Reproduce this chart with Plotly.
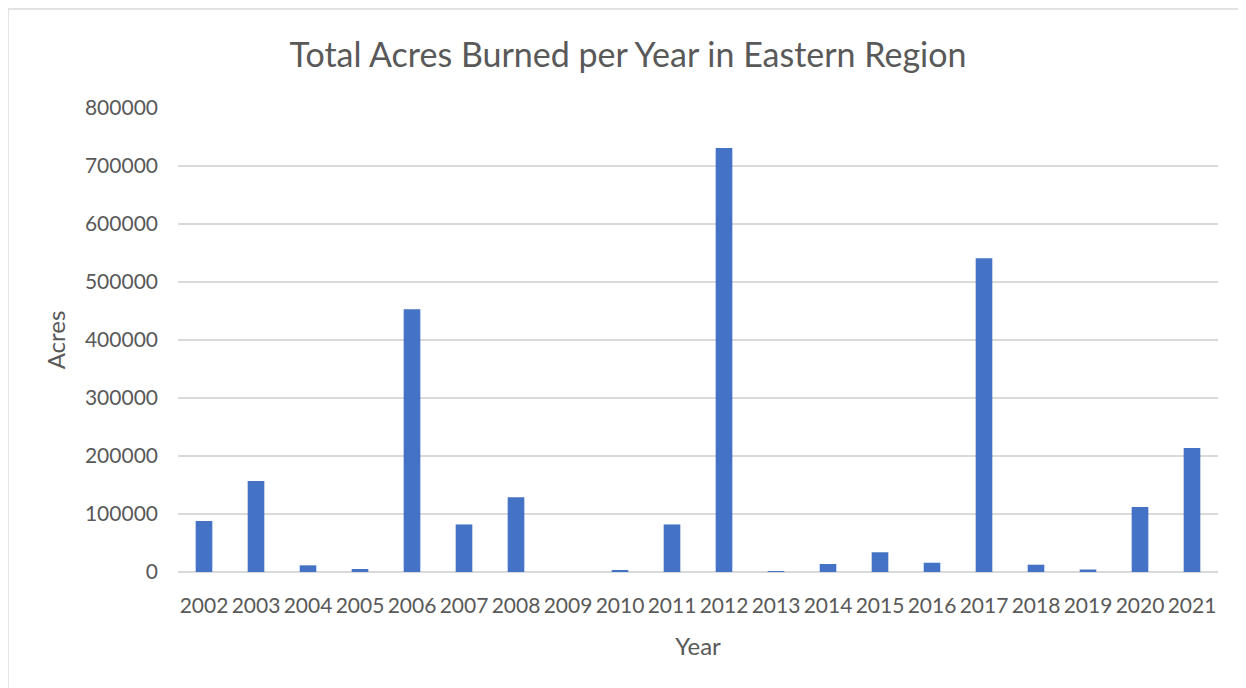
import plotly.graph_objects as go

# Acres burned per year
years = ["2002", "2003", "2004", "2005", "2006", "2007", "2008", "2009", "2010", "2011",
         "2012", "2013", "2014", "2015", "2016", "2017", "2018", "2019", "2020", "2021"]
acres = [88000, 157000, 11500, 5200, 453000, 82000, 129000, 0, 2000, 82000,
         731000, 1500, 13800, 34000, 16000, 541000, 12600, 4300, 112000, 214000]

y_ticks = [0, 100000, 200000, 300000, 400000, 500000, 600000, 700000, 800000]

text_grey = "#595959"
grid_grey = "#d9d9d9"
font_name = "Lato"

fig = go.Figure()

fig.add_trace(go.Bar(
    x=years,
    y=acres,
    marker_color="#4472C4",
    marker_line_width=0,
    showlegend=False,
))

fig.update_layout(
    width=1246,
    height=688,
    paper_bgcolor="white",
    plot_bgcolor="white",
    margin=dict(l=170, r=36, t=100, b=124),
    bargap=0.68,
    font=dict(family=font_name, color=text_grey, size=21),
    title=dict(
        text="Total Acres Burned per Year in Eastern Region",
        x=0.4976, xref="container", xanchor="center",
        y=0.932, yref="container", yanchor="middle",
        font=dict(size=34, color=text_grey, family=font_name),
    ),
    # outer chart border like the Excel chart area
    shapes=[dict(
        type="rect", xref="paper", yref="paper",
        x0=-0.1635, x1=1.2, y0=-0.4, y1=1.2134,
        line=dict(color=grid_grey, width=1.5), layer="below",
    )],
)

fig.update_xaxes(
    title=dict(text="Year", font=dict(size=24, color=text_grey), standoff=22),
    showline=False,
    showgrid=False,
    ticks="",
    ticklabelstandoff=19,
    tickfont=dict(size=21, color=text_grey),
)

fig.update_yaxes(
    title=dict(text="Acres", font=dict(size=24, color=text_grey), standoff=12),
    range=[0, 800000],
    tickvals=y_ticks,
    ticktext=[str(v) for v in y_ticks],
    showgrid=True,
    gridcolor=grid_grey,
    gridwidth=1.5,
    zeroline=True,
    zerolinecolor=grid_grey,
    zerolinewidth=1.5,
    showline=False,
    ticks="",
    ticklabelstandoff=19,
    tickfont=dict(size=21, color=text_grey),
)

fig.write_html("out.html")
